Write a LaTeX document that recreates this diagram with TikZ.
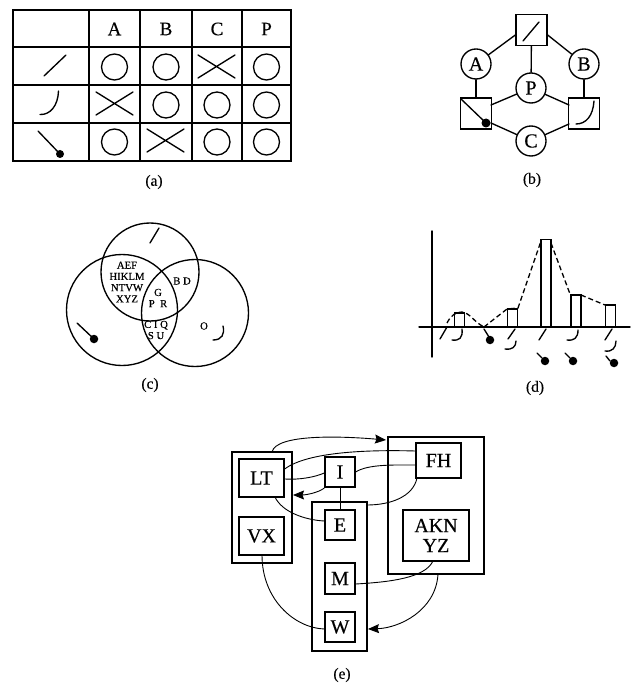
\documentclass[tikz,border=0pt]{standalone}
\usepackage{fontspec}
\setmainfont[FakeBold=0.35]{Liberation Serif}
\usetikzlibrary{arrows.meta}
\tikzset{
  ln/.style={line width=1.35pt,line cap=round},
  cell/.style={draw=none,inner sep=0pt,font=\fontsize{19}{19}\selectfont},
  ring/.style={circle,draw,line width=1.35pt,minimum size=26pt,inner sep=0pt},
  bring/.style={circle,draw,fill=white,line width=1.35pt,minimum size=30pt,inner sep=0pt,font=\fontsize{20}{20}\selectfont},
  sq/.style={rectangle,draw,line width=1.35pt,inner sep=0pt,minimum width=31pt,minimum height=31pt},
  dotmark/.style={circle,fill=black,inner sep=0pt,minimum size=#1},
  captext/.style={inner sep=0pt,font=\fontsize{15.5}{15.5}\selectfont},
  venn/.style={inner sep=0pt,align=center,font=\fontsize{10.7}{11.2}\selectfont},
  ebox/.style={rectangle,draw,line width=1.35pt,inner sep=0pt,font=\fontsize{20}{20}\selectfont,align=center},
  outer/.style={rectangle,draw,line width=1.35pt,inner sep=0pt},
  conn/.style={line width=0.9pt},
  tip/.style={-{Stealth[length=11pt,width=9pt,inset=1.5pt]}},
  bar/.style={line width=1.3pt},
  dash line/.style={line width=1.3pt,dash pattern=on 5pt off 3pt}
}
\begin{document}
\begin{tikzpicture}[x=1pt,y=-1pt]
\useasboundingbox (0,0) rectangle (639,684);
% ---------- (a)
\draw[ln] (13,10) rectangle (291,161);
\foreach \x in {89,140,192,242} \draw[ln] (\x,10) -- (\x,161);
\foreach \y in {47,85,123} \draw[ln] (13,\y) -- (291,\y);
\node[cell] (hA) at (114.5,29) {A};
\node[cell] (hB) at (166,29) {B};
\node[cell] (hC) at (217,29) {C};
\node[cell] (hP) at (266.5,29) {P};
\node[ring] (r1a) at (114.5,67) {};
\node[ring] (r1b) at (166,67) {};
\draw[ln] (198,55) -- (235,78) (198,78) -- (235,55);
\node[ring] (r1p) at (266.5,67) {};
\draw[ln] (96,92) -- (133,115) (96,115) -- (133,92);
\node[ring] (r2b) at (166,105) {};
\node[ring] (r2c) at (217,105) {};
\node[ring] (r2p) at (266.5,105) {};
\node[ring] (r3a) at (114.5,142) {};
\draw[ln] (147,129) -- (184,152) (147,152) -- (184,129);
\node[ring] (r3c) at (217,142) {};
\node[ring] (r3p) at (266.5,142) {};
\draw[ln] (44,76) -- (66,55);
\draw[ln] (40,114.5) .. controls (50,115) and (58,106) .. (58.5,91);
\draw[ln] (38,131) -- (60,154);
\node[dotmark=8pt] (ad) at (60,154) {};
\node[captext] (capa) at (154,182) {(a)};
% ---------- (b)
\node[sq] (bt) at (531.5,30) {};
\node[sq] (bl) at (476,113.5) {};
\node[sq] (br) at (584,113.5) {};
\node[bring] (bA) at (476,64) {A};
\node[bring] (bB) at (584,64) {B};
\node[bring] (bP) at (531,88) {P};
\node[bring] (bC) at (531,141) {C};
\draw[ln] (bA) -- (bt.south west |- 0,35);
\draw[ln] (bB) -- (bt.south east |- 0,35);
\draw[ln] (bt) -- (bP);
\draw[ln] (bA) -- (bl);
\draw[ln] (bB) -- (br);
\draw[ln] (bP) -- (491,105);
\draw[ln] (bP) -- (569,105);
\draw[ln] (491,123) -- (bC);
\draw[ln] (569,124) -- (bC);
\draw[ln] (523,41) -- (539,22);
\draw[ln] (576,124) .. controls (586,124) and (593,116) .. (594,101);
\draw[ln] (461,99) -- (486,123);
\node[dotmark=9pt] (bd) at (486,123) {};
\node[captext] (capb) at (532,180) {(b)};
% ---------- (c)
\draw[ln] (150,272) circle[radius=49];
\draw[ln] (122,310) circle[radius=55.5];
\draw[ln] (195,313) circle[radius=53.5];
\node[venn] (ct1) at (127,282) {AEF\\HIKLM\\NTVW\\XYZ};
\node[venn] (ct2) at (182,281) {B D};
\node[venn] (ct3) at (158,298) {G\\P\ \ R};
\node[venn] (ct4) at (156,330) {C I Q\\S U};
\node[venn] (ct5) at (204,326) {O};
\draw[ln] (150,243) -- (159,228);
\draw[ln] (77,323) -- (94,339);
\node[dotmark=8.5pt] (cd) at (94,339) {};
\draw[ln] (213,340) .. controls (222,340) and (225,334) .. (223,326);
\node[captext] (capc) at (150,385) {(c)};
% ---------- (d)
\draw[ln] (432,231) -- (432,357);
\draw[ln] (419,327) -- (630,327);
\draw[bar] (454.5,327) -- (454.5,313) -- (464.5,313) -- (464.5,327);
\draw[bar] (507.5,327) -- (507.5,309) -- (517.5,309) -- (517.5,327);
\draw[bar] (541,327) -- (541,239.5) -- (551,239.5) -- (551,327);
\draw[bar] (571,327) -- (571,295) -- (581,295) -- (581,327);
\draw[bar] (605.5,327) -- (605.5,305) -- (615.5,305) -- (615.5,327);
\draw[dash line] (447,323) .. controls (451,315) and (456,312) .. (462,312) .. controls (470,313) and (474,322) .. (484,327);
\draw[dash line] (484,327) -- (507,309) -- (518,308) -- (541,241);
\draw[dash line] (551,243) -- (570,294);
\draw[dash line] (581,295) -- (605,305);
\draw[ln] (440,339) -- (447,327);
\draw[ln] (452,340) .. controls (459,341) and (463,338) .. (462,329);
\draw[ln] (484,329) -- (489,337);
\node[dotmark=8.5pt] (dd1) at (490,340) {};
\draw[ln] (508,339) -- (515,329);
\draw[ln] (505,349) .. controls (512,350) and (516,347) .. (516,341);
\draw[ln] (539,340) -- (546,329);
\draw[ln] (537,353) -- (542,358);
\node[dotmark=8.5pt] (dd2) at (545,361) {};
\draw[ln] (567,340) .. controls (574,341) and (578,338) .. (578,330);
\draw[ln] (565,353) -- (570,358);
\node[dotmark=8.5pt] (dd3) at (573,361) {};
\draw[ln] (605,340) -- (612,329);
\draw[ln] (605,351) .. controls (612,352) and (616,348) .. (616,341);
\draw[ln] (606,356) -- (610,361);
\node[dotmark=8.5pt] (dd4) at (614,363) {};
\node[captext] (capd) at (535,388) {(d)};
% ---------- (e)
\node[outer,minimum width=60pt,minimum height=111pt] (oL) at (262,507.5) {};
\node[outer,minimum width=55pt,minimum height=149pt] (oM) at (339.5,576.5) {};
\node[outer,minimum width=96pt,minimum height=137pt] (oR) at (436,505.5) {};
\node[ebox,minimum width=45pt,minimum height=38pt] (LT) at (261.5,478) {LT};
\node[ebox,minimum width=45pt,minimum height=38pt] (VX) at (261.5,536) {VX};
\node[ebox,minimum width=30pt,minimum height=30pt] (I) at (340,472) {I};
\node[ebox,minimum width=30pt,minimum height=30pt] (E) at (340,525) {E};
\node[ebox,minimum width=30pt,minimum height=31pt] (M) at (340,578.5) {M};
\node[ebox,minimum width=30pt,minimum height=30pt] (W) at (340,627) {W};
\node[ebox,minimum width=45pt,minimum height=35pt] (FH) at (438.5,460.5) {FH};
\node[ebox,minimum width=66pt,minimum height=51pt] (AKN) at (436,535.5) {AKN\\YZ};
\node[captext] (cape) at (342,675) {(e)};
\draw[conn,tip] (272,452) .. controls (276,434) and (340,436) .. (386,440);
\draw[conn] (FH.west |- 0,451) .. controls (380,450) and (310,450) .. (LT.east |- 0,469);
\draw[conn] (LT.east |- 0,479) .. controls (300,480) and (315,477) .. (I.west |- 0,473);
\draw[conn,tip] (I.west |- 0,488) .. controls (318,493) and (305,495) .. (293,495);
\draw[conn] (I.east |- 0,472) .. controls (368,464) and (395,465) .. (FH.west |- 0,465);
\draw[conn] (417,478) .. controls (413,497) and (390,505) .. (367,505);
\draw[conn] (275,497) .. controls (282,512) and (305,520) .. (E.west |- 0,521);
\draw[conn] (I) -- (E);
\draw[conn] (262,555) .. controls (262,600) and (295,628) .. (W.west |- 0,629);
\draw[conn] (433,561) .. controls (425,578) and (390,582) .. (M.east |- 0,584);
\draw[conn,tip] (438,574) .. controls (436,610) and (400,628) .. (368,629);
\end{tikzpicture}
\end{document}
